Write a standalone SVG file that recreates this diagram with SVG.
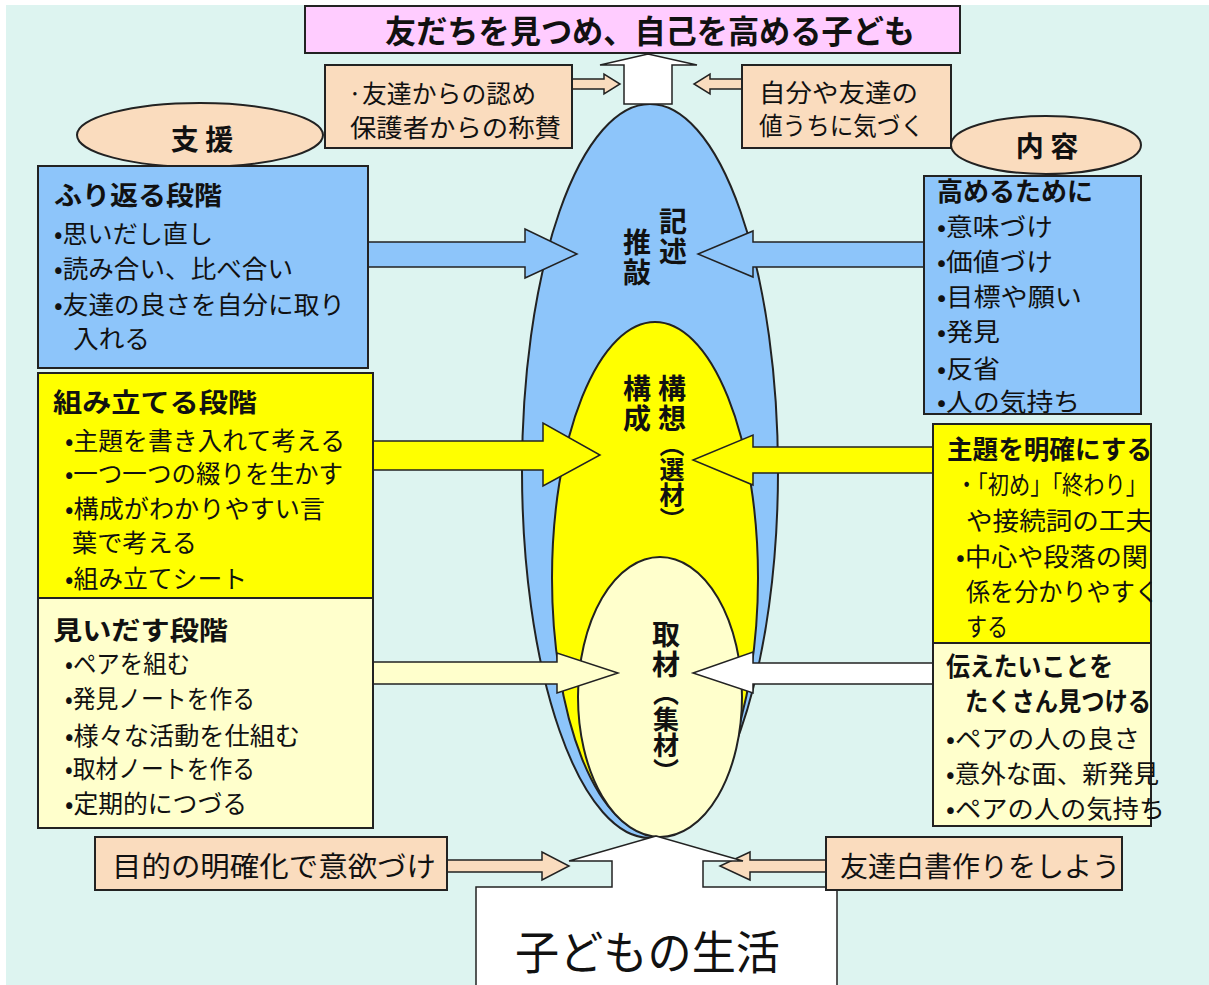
<svg xmlns="http://www.w3.org/2000/svg" width="1209" height="985" viewBox="0 0 1209 985">
<style>
text{font-family:'Noto Sans CJK JP','Noto Sans CJK SC',sans-serif;fill:#111}
.n{font-size:25px}
.h{font-size:26px;font-weight:700}
.v{font-size:28px;font-weight:700;writing-mode:vertical-rl;letter-spacing:2px}
.vp{font-size:25px;font-weight:700;writing-mode:vertical-rl}
.bx{stroke:#222;stroke-width:2}
.ar{stroke:#222;stroke-width:1.5}
.blue{fill:#8DC5FA}
.yel{fill:#FFFF00}
.lyel{fill:#FFFFCC}
.peach{fill:#FADCBE}
</style>
<rect x="0" y="0" width="1209" height="985" fill="#fff"/>
<rect x="6" y="5" width="1203" height="980" fill="#DDF4F0"/>

<g id="title">
<rect class="bx" x="305" y="6" width="655" height="47" fill="#FFCCFF"/>
<text x="385" y="43" font-size="32" font-weight="700" textLength="530" lengthAdjust="spacingAndGlyphs">友だちを見つめ、自己を高める子ども</text>
</g>

<g id="center-ellipses">
<ellipse class="bx blue" cx="650" cy="471" rx="128" ry="367"/>
<ellipse class="bx yel" cx="655" cy="578" rx="103" ry="256"/>
<ellipse class="bx lyel" cx="660" cy="697" rx="82" ry="140"/>
<text class="v" x="673" y="207">記述</text>
<text class="v" x="637" y="228">推敲</text>
<text class="v" x="672" y="374">構想</text>
<text class="vp" x="672" y="432">（選材）</text>
<text class="v" x="637" y="374">構成</text>
<text class="v" x="666" y="620">取材</text>
<text class="vp" x="666" y="680" style="font-size:26px">（集材）</text>
</g>

<g id="connectors">
<polygon class="ar" fill="#fff" points="624,104 624,65 600,65 648,54 697,65 672,65 672,104"/>
<polygon class="ar peach" points="572,79 604,79 604,74 620,84 604,94 604,89 572,89"/>
<polygon class="ar peach" points="742,79 710,79 710,74 694,84 710,94 710,89 742,89"/>
<polygon class="ar blue" points="368,242 525,242 525,229 577,254 525,278 525,267 368,267"/>
<polygon class="ar blue" points="924,242 753,242 753,231 698,254 753,277 753,267 924,267"/>
<polygon class="ar yel" points="373,441 543,441 543,423 600,455 543,486 543,470 373,470"/>
<polygon class="ar yel" points="933,447 753,447 753,435 693,460 753,485 753,473 933,473"/>
<polygon class="ar lyel" points="373,662 557,662 557,653 618,673 557,693 557,684 373,684"/>
<polygon class="ar" fill="#fff" points="933,663 753,663 753,652 693,673 753,693 753,684 933,684"/>
<polygon class="ar peach" points="447,860 542,860 542,852 569,866 542,880 542,872 447,872"/>
<polygon class="ar peach" points="826,860 750,860 750,852 720,866 750,880 750,872 826,872"/>
</g>

<g id="bottom-life">
<polygon class="ar" fill="#fff" points="476,986 476,887 612,887 612,861 569,861 656,836 743,861 703,861 703,887 837,887 837,986"/>
<text x="515" y="969" font-size="46" textLength="265" lengthAdjust="spacingAndGlyphs">子どもの生活</text>
</g>

<g id="praise">
<rect class="bx peach" x="325" y="65" width="247" height="83"/>
<text class="n" x="348" y="103" textLength="188" lengthAdjust="spacingAndGlyphs">·友達からの認め</text>
<text class="n" x="350" y="137" textLength="211" lengthAdjust="spacingAndGlyphs">保護者からの称賛</text>
</g>
<g id="value">
<rect class="bx peach" x="742" y="65" width="209" height="83"/>
<text class="n" x="759" y="102" textLength="159" lengthAdjust="spacingAndGlyphs">自分や友達の</text>
<text class="n" x="759" y="135" textLength="165" lengthAdjust="spacingAndGlyphs">値うちに気づく</text>
</g>

<g id="support-label">
<ellipse class="bx peach" cx="200" cy="135" rx="123" ry="32"/>
<text x="202" y="150" font-size="28" font-weight="700" text-anchor="middle">支 援</text>
</g>
<g id="content-label">
<ellipse class="bx peach" cx="1046" cy="145" rx="95" ry="29"/>
<text x="1047" y="157" font-size="28" font-weight="700" text-anchor="middle">内 容</text>
</g>

<g id="reflect">
<rect class="bx blue" x="38" y="166" width="330" height="202"/>
<text class="h" x="54" y="205" textLength="168" lengthAdjust="spacingAndGlyphs">ふり返る段階</text>
<text class="n" x="54" y="243" textLength="159" lengthAdjust="spacingAndGlyphs">•思いだし直し</text>
<text class="n" x="54" y="278" textLength="239" lengthAdjust="spacingAndGlyphs">•読み合い、比べ合い</text>
<text class="n" x="54" y="314" textLength="291" lengthAdjust="spacingAndGlyphs">•友達の良さを自分に取り</text>
<text class="n" x="73" y="348" textLength="77" lengthAdjust="spacingAndGlyphs">入れる</text>
</g>

<g id="compose">
<rect class="bx yel" x="38" y="373" width="335" height="225"/>
<text class="h" x="53" y="412" textLength="204" lengthAdjust="spacingAndGlyphs">組み立てる段階</text>
<text class="n" x="65" y="450" textLength="280" lengthAdjust="spacingAndGlyphs">•主題を書き入れて考える</text>
<text class="n" x="65" y="483" textLength="278" lengthAdjust="spacingAndGlyphs">•一つ一つの綴りを生かす</text>
<text class="n" x="65" y="518" textLength="260" lengthAdjust="spacingAndGlyphs">•構成がわかりやすい言</text>
<text class="n" x="72" y="552" textLength="125" lengthAdjust="spacingAndGlyphs">葉で考える</text>
<text class="n" x="65" y="588" textLength="182" lengthAdjust="spacingAndGlyphs">•組み立てシート</text>
</g>

<g id="discover">
<rect class="bx lyel" x="38" y="598" width="335" height="230"/>
<text class="h" x="53" y="640" textLength="175" lengthAdjust="spacingAndGlyphs">見いだす段階</text>
<text class="n" x="65" y="673" textLength="125" lengthAdjust="spacingAndGlyphs">•ペアを組む</text>
<text class="n" x="65" y="708" textLength="190" lengthAdjust="spacingAndGlyphs">•発見ノートを作る</text>
<text class="n" x="65" y="745" textLength="235" lengthAdjust="spacingAndGlyphs">•様々な活動を仕組む</text>
<text class="n" x="65" y="778" textLength="190" lengthAdjust="spacingAndGlyphs">•取材ノートを作る</text>
<text class="n" x="65" y="813" textLength="182" lengthAdjust="spacingAndGlyphs">•定期的につづる</text>
</g>

<g id="raise">
<rect class="bx blue" x="924" y="176" width="217" height="238"/>
<text class="h" x="937" y="201" textLength="156" lengthAdjust="spacingAndGlyphs">高めるために</text>
<text class="n" x="937" y="236" textLength="116" lengthAdjust="spacingAndGlyphs">•意味づけ</text>
<text class="n" x="937" y="271" textLength="116" lengthAdjust="spacingAndGlyphs">•価値づけ</text>
<text class="n" x="937" y="306" textLength="145" lengthAdjust="spacingAndGlyphs">•目標や願い</text>
<text class="n" x="937" y="341" textLength="63" lengthAdjust="spacingAndGlyphs">•発見</text>
<text class="n" x="937" y="378" textLength="63" lengthAdjust="spacingAndGlyphs">•反省</text>
<text class="n" x="937" y="411" textLength="143" lengthAdjust="spacingAndGlyphs">•人の気持ち</text>
</g>

<g id="theme">
<rect class="bx yel" x="933" y="424" width="218" height="219"/>
<text class="h" x="947" y="459" textLength="205" lengthAdjust="spacingAndGlyphs">主題を明確にする</text>
<text class="n" x="956" y="494" textLength="191" lengthAdjust="spacingAndGlyphs">・「初め」「終わり」</text>
<text class="n" x="966" y="530" textLength="186" lengthAdjust="spacingAndGlyphs">や接続詞の工夫</text>
<text class="n" x="956" y="566" textLength="192" lengthAdjust="spacingAndGlyphs">•中心や段落の関</text>
<text class="n" x="966" y="601" textLength="193" lengthAdjust="spacingAndGlyphs">係を分かりやすく</text>
<text class="n" x="966" y="636" textLength="42" lengthAdjust="spacingAndGlyphs">する</text>
</g>

<g id="findmany">
<rect class="bx lyel" x="933" y="643" width="218" height="183"/>
<text class="h" x="946" y="676" textLength="167" lengthAdjust="spacingAndGlyphs">伝えたいことを</text>
<text class="h" x="965" y="711" textLength="186" lengthAdjust="spacingAndGlyphs">たくさん見つける</text>
<text class="n" x="946" y="748" textLength="194" lengthAdjust="spacingAndGlyphs">•ペアの人の良さ</text>
<text class="n" x="946" y="783" textLength="213" lengthAdjust="spacingAndGlyphs">•意外な面、新発見</text>
<text class="n" x="946" y="818" textLength="219" lengthAdjust="spacingAndGlyphs">•ペアの人の気持ち</text>
</g>

<g id="motivate">
<rect class="bx peach" x="95" y="837" width="352" height="53"/>
<text x="112" y="877" font-size="28" textLength="324" lengthAdjust="spacingAndGlyphs">目的の明確化で意欲づけ</text>
</g>
<g id="whitepaper">
<rect class="bx peach" x="826" y="837" width="296" height="53"/>
<text x="840" y="877" font-size="28" textLength="280" lengthAdjust="spacingAndGlyphs">友達白書作りをしよう</text>
</g>
</svg>
